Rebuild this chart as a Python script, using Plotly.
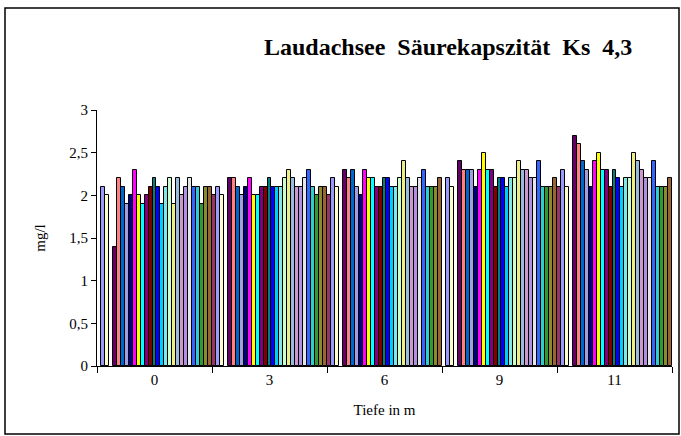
# Import python dependencies
import plotly.graph_objects as go

# Depth categories (x axis)
depths = ["0", "3", "6", "9", "11"]

# Series colours, one per measurement series (Excel style palette)
series_colors = [
    "#993366", "#9999FF", "#FFFFCC", "#CCFFFF", "#660066", "#FF8080",
    "#0066CC", "#A0A0E0", "#000080", "#FF00FF", "#FFFF00", "#00FFFF",
    "#800080", "#800000", "#008080", "#0000FF", "#00CCFF", "#80E8E8",
    "#CCFFCC", "#EEEE88", "#99BBDD", "#CC99CC", "#B090E0", "#E6E6E6",
    "#3366FF", "#33CCCC", "#339933", "#8B8B2E", "#996633",
]

# Acid capacity values (mg/l) per depth, one value per series
depth_0 = [None, 2.1, 2.0, None, 1.4, 2.2, 2.1, 1.9, 2.0, 2.3, 2.0, 1.9, 2.0, 2.1, 2.2,
           2.1, 1.9, 2.1, 2.2, 1.9, 2.2, 2.0, 2.1, 2.2, 2.1, 2.1, 1.9, 2.1, 2.1]
depth_3 = [2.0, 2.1, 2.0, None, 2.2, 2.2, 2.1, 2.0, 2.1, 2.2, 2.0, 2.0, 2.1, 2.1, 2.2,
           2.1, 2.1, 2.1, 2.2, 2.3, 2.2, 2.1, 2.1, 2.2, 2.3, 2.1, 2.0, 2.1, 2.1]
depth_6 = [2.0, 2.2, 2.1, None, 2.3, 2.2, 2.3, 2.1, 2.0, 2.3, 2.2, 2.2, 2.1, 2.1, 2.2,
           2.2, 2.1, 2.1, 2.2, 2.4, 2.2, 2.1, 2.1, 2.2, 2.3, 2.1, 2.1, 2.1, 2.2]
depth_9 = [None, 2.2, 2.1, None, 2.4, 2.3, 2.3, 2.3, 2.1, 2.3, 2.5, 2.3, 2.3, 2.1, 2.2,
           2.2, 2.1, 2.2, 2.2, 2.4, 2.3, 2.3, 2.2, 2.2, 2.4, 2.1, 2.1, 2.1, 2.2]
depth_11 = [2.1, 2.3, 2.1, None, 2.7, 2.6, 2.4, 2.3, 2.1, 2.4, 2.5, 2.3, 2.3, 2.1, 2.3,
            2.2, 2.1, 2.2, 2.2, 2.5, 2.4, 2.3, 2.2, 2.2, 2.4, 2.1, 2.1, 2.1, 2.2]

y_ticks = [0, 0.5, 1, 1.5, 2, 2.5, 3]

serif = "Liberation Serif, Times New Roman, serif"

# Build one bar trace per series
fig = go.Figure()
by_depth = [depth_0, depth_3, depth_6, depth_9, depth_11]
for i, color in enumerate(series_colors):
    fig.add_trace(go.Bar(
        x=depths,
        y=[d[i] for d in by_depth],
        name=f"Serie {i + 1}",
        marker=dict(color=color, line=dict(color="black", width=1)),
    ))

fig.update_layout(
    width=681,
    height=436,
    margin=dict(l=97, r=9, t=110, b=70),
    paper_bgcolor="white",
    plot_bgcolor="white",
    showlegend=False,
    barmode="group",
    bargap=0,
    bargroupgap=0,
    separators=",.",
    font=dict(family=serif, size=15, color="black"),
    title=dict(text="<b>Laudachsee  Säurekapszität  Ks  4,3</b>",
               x=0.658, xanchor="center", y=0.892, yanchor="middle",
               font=dict(family=serif, size=24, color="black")),
)

fig.update_xaxes(
    type="category",
    showline=True, linecolor="black", linewidth=1,
    ticks="outside", tickson="boundaries", ticklen=6, tickcolor="black",
    showgrid=False,
    title=dict(text="Tiefe in m", standoff=17, font=dict(family=serif, size=15)),
    tickfont=dict(family=serif, size=15),
)
fig.update_yaxes(
    range=[0, 3],
    tickvals=y_ticks,
    showline=True, linecolor="black", linewidth=1,
    ticks="outside", ticklen=5, tickcolor="black",
    showgrid=False, zeroline=False,
    title=dict(text="mg/l", standoff=20, font=dict(family=serif, size=15)),
    tickfont=dict(family=serif, size=15),
)

# Outer chart border
fig.add_shape(type="rect", xref="paper", yref="paper",
              x0=(5 - 97) / 575, x1=(679 - 97) / 575,
              y0=(366 - 434) / 256, y1=(366 - 8) / 256,
              line=dict(color="black", width=1.5), layer="below")

# Drop the default page margin so the figure sits at the window corner
fig.write_html("out.html", config={"displayModeBar": False},
               post_script="document.body.style.margin='0';")
